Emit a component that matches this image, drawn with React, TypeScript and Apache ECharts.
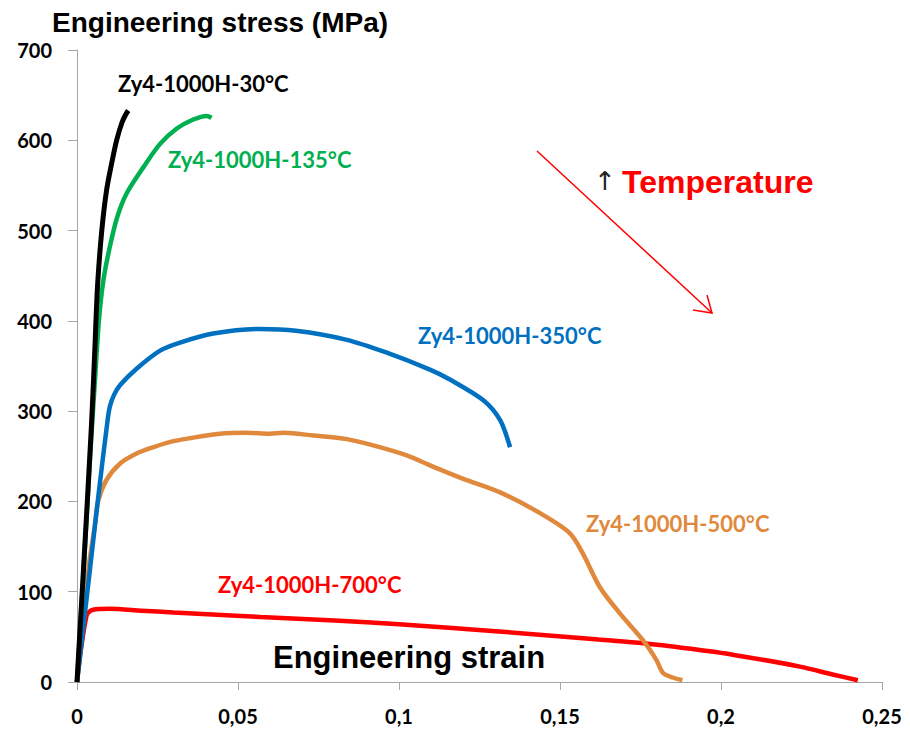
import React, { useEffect, useRef } from "react";
import * as echarts from "echarts";

const xTicks = [0, 0.05, 0.1, 0.15, 0.2, 0.25];
const yTicks = [0, 100, 200, 300, 400, 500, 600, 700];

const strain30 = [0, 0.002, 0.0045, 0.0055, 0.0064, 0.0077, 0.0092, 0.0108, 0.0123, 0.014, 0.0152, 0.0159];
const stress30 = [0, 124, 285, 365, 440, 500, 545, 575, 600, 620, 629, 633];

const strain135 = [0, 0.002, 0.004, 0.0055, 0.0068, 0.0082, 0.0102, 0.0125, 0.0154, 0.0206, 0.0258, 0.031, 0.0361, 0.0403, 0.0418];
const stress135 = [0, 120, 245, 330, 400, 445, 482, 515, 541, 570, 596, 613, 623, 627, 625];

const strain350 = [0, 0.004, 0.0066, 0.0095, 0.0102, 0.0115, 0.0134, 0.0185, 0.0258, 0.032, 0.0423, 0.0568, 0.068, 0.0838, 0.096, 0.1096, 0.1158, 0.1262, 0.1314, 0.1345];
const stress350 = [0, 124, 205, 290, 305, 318, 329, 347, 367, 376, 386, 391, 389, 379, 365, 346, 335, 312, 290, 260];

const strain500 = [0, 0.0035, 0.0055, 0.0066, 0.0092, 0.0134, 0.0185, 0.0236, 0.029, 0.035, 0.0444, 0.0527, 0.06, 0.064, 0.0734, 0.0838, 0.092, 0.1024, 0.1096, 0.12, 0.1314, 0.1438, 0.153, 0.157, 0.1624, 0.1686, 0.1758, 0.18, 0.182, 0.185, 0.188];
const stress500 = [0, 124, 172, 201, 224, 242, 253, 260, 266, 270, 275, 276, 275, 276, 273, 269, 262, 251, 240, 225, 210, 187, 165, 143, 105, 76, 46, 24, 10, 5, 2];

const strain700 = [0, 0.003, 0.005, 0.01, 0.02, 0.03, 0.057, 0.08, 0.1, 0.131, 0.162, 0.176, 0.19, 0.204, 0.2245, 0.235, 0.2425];
const stress700 = [0, 74, 80, 81, 79, 77, 72, 68, 64, 56, 47, 43, 37, 30, 17, 8, 2];

const seriesNames = [
  "Zy4-1000H-700°C",
  "Zy4-1000H-500°C",
  "Zy4-1000H-350°C",
  "Zy4-1000H-135°C",
  "Zy4-1000H-30°C",
];
const seriesColors = ["#ff0000", "#e0893d", "#0070c0", "#00b050", "#000000"];
const seriesStrain = [strain700, strain500, strain350, strain135, strain30];
const seriesStress = [stress700, stress500, stress350, stress135, stress30];

const CAL = "Lato, 'Open Sans', sans-serif";
const ARIAL = "'Liberation Sans', Arial, sans-serif";

export default function App() {
  const ref = useRef<HTMLDivElement>(null);
  useEffect(() => {
    if (!ref.current) return;
    const chart = echarts.init(ref.current, undefined, { renderer: "svg" });
    const axisColor = "#a6a6a6";
    const labelStyle = (name: string, color: string, x: number, y: number) => ({
      type: "text",
      left: x,
      top: y,
      style: {
        text: name,
        fill: color,
        font: `bold 22px ${CAL}`,
      },
    });
    chart.setOption({
      animation: false,
      backgroundColor: "#ffffff",
      grid: { left: 77, right: 28, top: 50, bottom: 48, containLabel: false },
      xAxis: {
        type: "value",
        min: xTicks[0],
        max: xTicks[xTicks.length - 1],
        interval: 0.05,
        splitLine: { show: false },
        axisLine: { show: true, lineStyle: { color: axisColor, width: 1 } },
        axisTick: { show: true, length: 8, lineStyle: { color: axisColor } },
        axisLabel: {
          margin: 24,
          color: "#000",
          fontFamily: CAL,
          fontWeight: "bold",
          fontSize: 20,
          formatter: (v: number) => String(Math.round(v * 100) / 100).replace(".", ","),
        },
      },
      yAxis: {
        type: "value",
        min: yTicks[0],
        max: yTicks[yTicks.length - 1],
        interval: 100,
        splitLine: { show: false },
        axisLine: { show: true, lineStyle: { color: axisColor, width: 1 } },
        axisTick: { show: true, length: 9, lineStyle: { color: axisColor } },
        axisLabel: {
          margin: 25,
          color: "#000",
          fontFamily: CAL,
          fontWeight: "bold",
          fontSize: 20,
        },
      },
      series: seriesNames.map((name, i) => ({
        name,
        type: "line",
        showSymbol: false,
        symbol: "none",
        smooth: 0.3,
        lineStyle: { color: seriesColors[i], width: i === 4 ? 5 : 4.5 },
        data: seriesStrain[i].map((s, j) => [s, seriesStress[i][j]]),
      })),
      graphic: [
        {
          type: "text",
          left: 52,
          top: 8,
          style: { text: "Engineering stress (MPa)", fill: "#000", font: `bold 28px ${ARIAL}` },
        },
        {
          type: "text",
          left: 273,
          top: 642,
          style: { text: "Engineering strain", fill: "#000", font: `bold 31px ${ARIAL}` },
        },
        {
          type: "text",
          left: 622,
          top: 166,
          style: { text: "Temperature", fill: "#ff0000", font: `bold 32px ${ARIAL}` },
        },
        {
          type: "text",
          left: 594,
          top: 168,
          style: { text: "↑", fill: "#222", font: `26px 'DejaVu Sans', sans-serif` },
        },
        {
          type: "line",
          shape: { x1: 537, y1: 151, x2: 712, y2: 313 },
          style: { stroke: "#ff0000", lineWidth: 1.5 },
        },
        {
          type: "polyline",
          shape: { points: [[693, 310], [712, 313], [707, 295]] },
          style: { stroke: "#ff0000", lineWidth: 1.5, fill: null },
        },
        labelStyle(seriesNames[4], "#000000", 118, 72),
        labelStyle(seriesNames[3], "#00b050", 168, 148),
        labelStyle(seriesNames[2], "#0070c0", 418, 324),
        labelStyle(seriesNames[1], "#e0893d", 586, 512),
        labelStyle(seriesNames[0], "#ff0000", 218, 573),
      ],
    });
    return () => chart.dispose();
  }, []);
  return (
    <div
      ref={ref}
      style={{ position: "absolute", left: 0, top: 0, width: 910, height: 730 }}
    />
  );
}
